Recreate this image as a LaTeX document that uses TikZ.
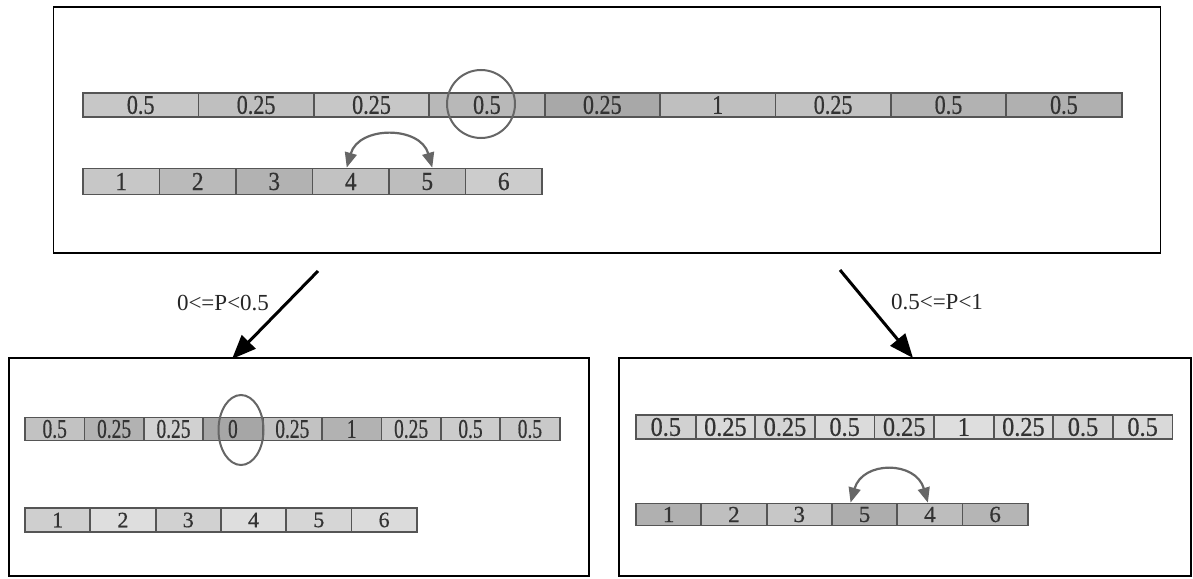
\documentclass[tikz,border=0pt]{standalone}
\usepackage{fontspec}
\setmainfont{Liberation Serif}
\newfontfamily\cellfont[FakeBold=0.6]{Liberation Serif}
\usetikzlibrary{arrows.meta,shapes.geometric}
\definecolor{celltext}{HTML}{333333}
\definecolor{cellrule}{HTML}{555555}
\definecolor{marker}{HTML}{666666}
% condensed cell label: font size, horizontal squeeze, text
\newcommand{\cellnum}[3]{\cellfont\fontsize{#1}{#1}\selectfont\scalebox{#2}[1]{#3}}
\begin{document}
\begin{tikzpicture}[x=1pt,y=-1pt,
  panel/.style={draw=black,line width=1.5pt,inner sep=0pt,fill=white},
  wcell/.style={draw=cellrule,line width=1.8pt,inner sep=0pt,text=celltext},
  swaparrow/.style={draw=marker,line width=2.2pt,
    {Triangle[length=15pt,width=12pt]}-{Triangle[length=15pt,width=12pt]}},
  ring/.style={draw=marker,line width=2pt,inner sep=0pt},
  bigarrow/.style={draw=black,line width=3pt,-{Triangle[length=24pt,width=19pt]}},
  cond/.style={font=\fontsize{23}{23}\selectfont,inner sep=0pt,text=black!85}]
\useasboundingbox (0,0) rectangle (1193,578);
\fill[white] (0,0) rectangle (1193,578);

% three panels
\node[panel,minimum width=1107pt,minimum height=246pt] (top) at (607,130) {};
\node[panel,minimum width=580pt,minimum height=218pt] (left) at (299,467) {};
\node[panel,minimum width=572pt,minimum height=218pt] (right) at (905,467) {};

% top panel: weights
\foreach \v/\g [count=\i] in {0.5/22,0.25/25,0.25/22,0.5/28,0.25/34,1/25,0.25/24,0.5/30,0.5/31}
  \node[wcell,fill=black!\g,minimum width=115.4pt,minimum height=24pt]
    (tw\i) at ({83+115.4*(\i-0.5)},105) {\cellnum{27}{0.82}{\v}};
% top panel: order
\foreach \v/\g [count=\i] in {1/22,2/27,3/30,4/24,5/26,6/20}
  \node[wcell,fill=black!\g,minimum width=76.5pt,minimum height=26pt]
    (to\i) at ({83+76.5*(\i-0.5)},181.5) {\cellnum{26}{0.9}{\v}};
\node[ring,circle,minimum size=68pt] (tmark) at (481,104) {};
\draw[swaparrow] ([xshift=-4pt]to4.north) .. controls +(12,-42) and +(-12,-42) .. ([xshift=5pt]to5.north);

% left panel: weights
\foreach \v/\g [count=\i] in {0.5/24,0.25/30,0.25/18,0/35,0.25/24,1/30,0.25/21,0.5/20,0.5/21}
  \node[wcell,fill=black!\g,minimum width=59.4pt,minimum height=23pt]
    (lw\i) at ({25+59.4*(\i-0.5)},429) {\cellnum{27}{0.72}{\v}};
% left panel: order
\foreach \v/\g [count=\i] in {1/19,2/13,3/18,4/13,5/16,6/14}
  \node[wcell,fill=black!\g,minimum width=65.3pt,minimum height=24pt]
    (lo\i) at ({25+65.3*(\i-0.5)},520) {\cellnum{22}{1}{\v}};
\node[ring,ellipse,minimum width=45pt,minimum height=70pt] (lmark) at (241,430) {};

% right panel: weights
\foreach \v/\g [count=\i] in {0.5/18,0.25/15,0.25/17,0.5/14,0.25/17,1/13,0.25/15,0.5/17,0.5/15}
  \node[wcell,fill=black!\g,minimum width=59.6pt,minimum height=24pt]
    (rw\i) at ({636+59.6*(\i-0.5)},427) {\cellnum{27}{0.9}{\v}};
% right panel: order
\foreach \v/\g [count=\i] in {1/31,2/25,3/22,5/32,4/26,6/29}
  \node[wcell,fill=black!\g,minimum width=65.3pt,minimum height=22pt]
    (ro\i) at ({636+65.3*(\i-0.5)},514.5) {\cellnum{23}{1}{\v}};
\draw[swaparrow] ([xshift=-14pt]ro4.north) .. controls +(12,-42) and +(-12,-42) .. ([xshift=-2pt]ro5.north);

% branch arrows with their conditions
\coordinate (lfrom) at (318,271);
\coordinate (lto) at (232,359);
\coordinate (rfrom) at (840,270);
\coordinate (rto) at (913,358);
\draw[bigarrow] (lfrom) -- (lto);
\draw[bigarrow] (rfrom) -- (rto);
\node[cond] (lcond) at (223,303) {0<=P<0.5};
\node[cond] (rcond) at (937,302) {0.5<=P<1};
\end{tikzpicture}
\end{document}
